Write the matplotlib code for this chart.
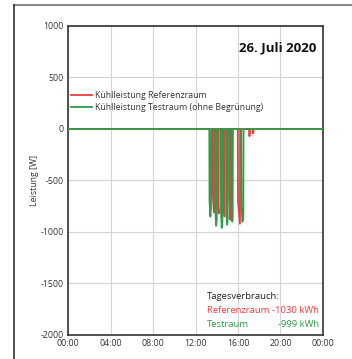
import matplotlib
matplotlib.use("Agg")
import matplotlib.pyplot as plt
from matplotlib.lines import Line2D

# Data (hours of day, power in W)
ref_t = [0, 13.58, 13.60, 13.73, 13.75, 14.05, 14.07, 14.18, 14.20,
         14.60, 14.62, 14.73, 14.75, 15.15, 15.17, 15.28, 15.30,
         15.98, 16.00, 16.18, 16.20, 17.05, 17.07, 17.10, 17.12,
         17.40, 17.42, 17.44, 17.46, 24]
ref_p = [0, 0, -600, -810, 0, 0, -650, -820, 0,
         0, -620, -850, 0, 0, -640, -880, 0,
         0, -700, -920, 0, 0, -70, -60, 0,
         0, -45, -40, 0, 0]

test_t = [0, 13.30, 13.32, 13.40, 13.46, 13.48, 13.85, 13.87, 13.94, 14.00, 14.02,
          14.38, 14.40, 14.47, 14.53, 14.55, 14.88, 14.90, 14.97, 15.03, 15.05,
          15.38, 15.40, 15.46, 15.50, 15.52, 16.30, 16.32, 16.42, 16.50, 16.52, 24]
test_p = [0, 0, -700, -850, -760, 0, 0, -780, -940, -880, 0,
          0, -800, -960, -900, 0, 0, -760, -930, -880, 0,
          0, -740, -900, -860, 0, 0, -760, -900, -850, 0, 0]

xticks = [0, 4, 8, 12, 16, 20, 24]
xlabels = ["00:00", "04:00", "08:00", "12:00", "16:00", "20:00", "00:00"]
yticks = [-2000, -1500, -1000, -500, 0, 500, 1000]

red = "#ee3b3b"
green = "#2a9e48"

fig = plt.figure(figsize=(3.52, 3.59), dpi=100)
plt.rcParams['font.family'] = ['Open Sans', 'DejaVu Sans']
ax = fig.add_axes([0.1932, 0.0669, 0.7244, 0.8607])

ax.plot(ref_t, ref_p, color=red, lw=1.3, label="Kühlleistung Referenzraum", zorder=3)
ax.plot(test_t, test_p, color=green, lw=1.3, label="Kühlleistung Testraum (ohne Begrünung)", zorder=4)

ax.set_xlim(0, 24)
ax.set_ylim(-2000, 1000)
ax.set_xticks(xticks)
ax.set_xticklabels(xlabels)
ax.set_yticks(yticks)
ax.set_yticklabels([str(v) for v in yticks])
ax.tick_params(length=0, labelsize=6.3, colors="#333333", pad=3)
ax.grid(True, color="#d4d4d4", lw=0.8)
ax.set_axisbelow(True)
for s in ax.spines.values():
    s.set_color("#333333")
    s.set_linewidth(1.2)

ax.set_ylabel("Leistung [W]", fontsize=6.3, color="#333333", labelpad=1)

ax.text(0.975, 0.93, "26. Juli 2020", transform=ax.transAxes, ha="right", va="center",
        fontsize=9.5, fontweight="bold", color="#111111")

leg = ax.legend(loc="upper left", bbox_to_anchor=(-0.01, 0.805), frameon=False,
                fontsize=6.3, handlelength=2.4, handletextpad=0.4, labelspacing=0.25,
                borderaxespad=0.2)
for t in leg.get_texts():
    t.set_color("#333333")

ax.text(0.545, 0.123, "Tagesverbrauch:", transform=ax.transAxes, fontsize=6.8, color="#222222",
        va="center")
ax.text(0.545, 0.079, "Referenzraum -1030 kWh", transform=ax.transAxes, fontsize=6.8, color=red,
        va="center")
ax.text(0.545, 0.035, "Testraum", transform=ax.transAxes, fontsize=6.8, color=green, va="center")
ax.text(0.985, 0.035, "-999 kWh", transform=ax.transAxes, fontsize=6.8, color=green, va="center",
        ha="right")

# outer frame
fig.add_artist(Line2D([14/352, 1.0], [1 - 5/359, 1 - 5/359], transform=fig.transFigure,
                      color="#888888", lw=1.5))
fig.add_artist(Line2D([14/352, 14/352], [0, 1 - 5/359], transform=fig.transFigure,
                      color="#333333", lw=1.2))

fig.savefig("out.png", dpi=100)
